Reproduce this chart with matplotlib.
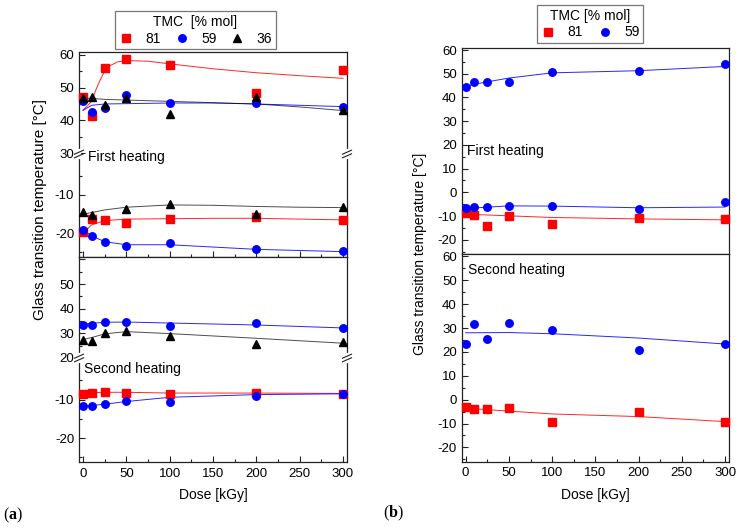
import matplotlib
matplotlib.use('Agg')
import matplotlib.pyplot as plt
from matplotlib.lines import Line2D
from matplotlib.ticker import FixedLocator, FuncFormatter, MultipleLocator

plt.rcParams['font.family'] = ['Liberation Sans', 'DejaVu Sans']
plt.rcParams['axes.unicode_minus'] = False
plt.rcParams['mathtext.fontset'] = 'custom'
plt.rcParams['mathtext.rm'] = 'Liberation Serif'
plt.rcParams['mathtext.bf'] = 'Liberation Serif:bold'

# ---------------- data ----------------
dose = [0, 10, 25, 50, 100, 200, 300]
dose_36_lo = [0, 10, 50, 100, 200, 300]

# (a) first heating, upper range
a1_81_hi = [47.1, 41.3, 56.0, 58.7, 56.8, 48.4, 55.4]
a1_59_hi = [45.8, 42.6, 43.8, 47.8, 45.3, 45.2, 44.1]
a1_36_hi = [46.8, 47.1, 44.6, 46.8, 42.1, 47.0, 43.3]
# (a) first heating, lower range
a1_81_lo = [-19.7, -16.3, -16.5, -17.2, -16.3, -15.8, -16.5]
a1_59_lo = [-19.1, -20.7, -22.4, -23.2, -22.6, -24.2, -24.6]
a1_36_lo = [-14.4, -15.3, -13.7, -12.4, -15.0, -13.2]
# (a) second heating
a2_59_hi = [33.2, 33.2, 34.8, 34.6, 32.9, 34.4, 32.2]
a2_36_hi = [27.5, 27.1, 30.0, 30.8, 29.1, 25.7, 26.4]
a2_81_lo = [-8.5, -8.2, -7.9, -8.2, -8.5, -8.2, -8.5]
a2_59_lo = [-11.7, -11.7, -11.1, -10.3, -10.7, -9.1, -8.5]

# (b)
b1_59_hi = [44.4, 46.4, 46.6, 46.4, 50.6, 51.1, 54.2]
b1_59_lo = [-6.5, -6.1, -6.2, -5.6, -5.9, -7.1, -4.2]
b1_81 = [-8.9, -9.5, -14.3, -10.0, -13.4, -11.0, -11.3]
b2_59 = [23.5, 31.8, 25.4, 31.9, 29.3, 20.9, 23.4]
b2_81 = [-3.0, -3.9, -4.0, -3.4, -9.2, -5.0, -9.5]

# fitted curves
fx_a1_81_hi = [0, 10, 15, 20, 25, 30, 40, 50, 75, 100, 150, 200, 250, 300]
fy_a1_81_hi = [43.1, 45.8, 49.4, 52.4, 55.0, 56.5, 57.8, 58.2, 58.0, 57.2, 55.7, 54.5, 53.6, 52.8]
fx_a1 = [0, 10, 25, 50, 100, 150, 200, 250, 300]
fy_a1_59_hi = [43.1, 44.6, 45.0, 45.1, 45.3, 45.3, 45.0, 44.6, 44.2]
fy_a1_36_hi = [46.8, 46.7, 46.4, 46.2, 45.8, 45.4, 45.0, 44.1, 43.0]
fy_a1_36_lo = [-15.0, -14.6, -13.9, -13.2, -12.6, -12.7, -13.0, -13.2, -13.3]
fy_a1_81_lo = [-20.0, -17.8, -16.7, -16.3, -16.2, -16.1, -16.1, -16.3, -16.5]
fy_a1_59_lo = [-19.1, -20.7, -22.2, -23.0, -23.0, -23.6, -24.2, -24.5, -24.8]
fx_a2 = [0, 10, 25, 50, 100, 200, 300]
fy_a2_59_hi = [33.8, 34.1, 34.5, 34.6, 34.2, 33.4, 32.2]
fy_a2_36_hi = [27.5, 28.3, 29.8, 30.7, 29.9, 28.0, 26.0]
fy_a2_81_lo = [-8.4, -8.2, -8.1, -8.1, -8.3, -8.3, -8.4]
fy_a2_59_lo = [-11.7, -11.5, -11.2, -10.5, -9.4, -8.7, -8.5]
fx_b1_59_hi = [0, 10, 25, 50, 100, 200, 300]
fy_b1_59_hi = [44.7, 45.6, 46.6, 48.2, 50.4, 51.3, 53.1]
fx_b1_59_lo = [0, 50, 100, 200, 300]
fy_b1_59_lo = [-6.8, -5.7, -5.8, -6.5, -6.2]
fx_b1_81 = [0, 100, 200, 300]
fy_b1_81 = [-9.2, -10.6, -11.2, -11.6]
fx_b2_59 = [0, 50, 100, 200, 300]
fy_b2_59 = [28.0, 28.1, 27.6, 25.8, 23.3]
fx_b2_81 = [0, 100, 200, 300]
fy_b2_81 = [-3.6, -6.0, -7.1, -9.2]

x_ticks = [0, 50, 100, 150, 200, 250, 300]
legend_a = ['81', '59', '36']
legend_b = ['81', '59']

# ---------------- style ----------------
RED = '#ff0000'
BLUE = '#0000ff'
BLACK = '#000000'
FS = 9.5
MS = {'s': 5.2, 'o': 5.4, '^': 6.2}
W, H = 743, 530
fig = plt.figure(figsize=(W / 100, H / 100), dpi=100)


def add_ax(x0, x1, y0, y1):
    return fig.add_axes([x0 / W, 1 - y1 / H, (x1 - x0) / W, (y1 - y0) / H])


def style(ax, ylim, major, minor, hide_label=(), xticks=False, xlabels=False,
          hide_top=False, hide_bottom=False):
    ax.set_xlim(-4.6, 304.6)
    ax.set_ylim(*ylim)
    for s in ax.spines.values():
        s.set_linewidth(0.9)
        s.set_color('#222222')
    if hide_top:
        ax.spines['top'].set_visible(False)
    if hide_bottom:
        ax.spines['bottom'].set_visible(False)
    ax.yaxis.set_major_locator(FixedLocator(major))
    ax.yaxis.set_minor_locator(FixedLocator(minor))
    ax.yaxis.set_major_formatter(FuncFormatter(
        lambda v, p: '' if round(v) in hide_label else '%d' % round(v)))
    ax.tick_params(axis='y', which='both', direction='in', left=True, right=False,
                   labelsize=FS, pad=3.5, width=0.8, color='#222222')
    ax.tick_params(axis='y', which='major', length=4)
    ax.tick_params(axis='y', which='minor', length=2.5)
    if xticks:
        ax.xaxis.set_major_locator(FixedLocator(x_ticks))
        ax.xaxis.set_minor_locator(MultipleLocator(25))
        ax.tick_params(axis='x', which='both', direction='in', bottom=True, top=False,
                       labelbottom=xlabels, labelsize=FS, pad=4, width=0.8, color='#222222')
        ax.tick_params(axis='x', which='major', length=4)
        ax.tick_params(axis='x', which='minor', length=2.5)
    else:
        ax.tick_params(axis='x', which='both', bottom=False, top=False, labelbottom=False)


def pts(ax, x, y, color, marker):
    ax.plot(x, y, ls='none', marker=marker, color=color, mec=color, ms=MS[marker],
            zorder=3, clip_on=False)


def fit(ax, x, y, color, lw=0.7, alpha=0.85):
    ax.plot(x, y, color=color, lw=lw, alpha=alpha, zorder=2)


def brk(px, py):
    fig.add_artist(Line2D([px / W, px / W], [1 - (py - 3) / H, 1 - (py + 3) / H],
                          color='white', lw=3, transform=fig.transFigure, zorder=10))
    for dy in (-1.8, 1.8):
        xs = [(px - 4.5) / W, (px + 4.5) / W]
        ys = [1 - (py + dy + 2) / H, 1 - (py + dy - 2) / H]
        fig.add_artist(Line2D(xs, ys, color='#222222', lw=0.8,
                              transform=fig.transFigure, zorder=11))


# ---------------- panel (a) ----------------
LX0, LX1 = 79, 347
a_s1 = add_ax(LX0, LX1, 52, 154)
a_s2 = add_ax(LX0, LX1, 154, 257)
a_s3 = add_ax(LX0, LX1, 257, 358)
a_s4 = add_ax(LX0, LX1, 358, 462)

style(a_s1, (29.8, 60.8), [30, 40, 50, 60], [35, 45, 55], hide_bottom=True)
style(a_s2, (-26.2, 0.7), [-20, -10], [-25, -15, -5], xticks=True, xlabels=False, hide_top=True)
style(a_s3, (20.0, 61.0), [20, 30, 40, 50, 60], [25, 35, 45, 55], hide_label=(60,), hide_bottom=True)
style(a_s4, (-26.2, 0.8), [-20, -10], [-25, -15, -5], xticks=True, xlabels=True, hide_top=True)

fit(a_s1, fx_a1_81_hi, fy_a1_81_hi, RED)
fit(a_s1, fx_a1, fy_a1_59_hi, BLUE)
fit(a_s1, fx_a1, fy_a1_36_hi, BLACK, alpha=0.7)
pts(a_s1, dose, a1_81_hi, RED, 's')
pts(a_s1, dose, a1_59_hi, BLUE, 'o')
pts(a_s1, dose, a1_36_hi, BLACK, '^')

fit(a_s2, fx_a1, fy_a1_81_lo, RED)
fit(a_s2, fx_a1, fy_a1_59_lo, BLUE)
fit(a_s2, fx_a1, fy_a1_36_lo, BLACK, alpha=0.7)
pts(a_s2, dose, a1_81_lo, RED, 's')
pts(a_s2, dose, a1_59_lo, BLUE, 'o')
pts(a_s2, dose_36_lo, a1_36_lo, BLACK, '^')

fit(a_s3, fx_a2, fy_a2_59_hi, BLUE)
fit(a_s3, fx_a2, fy_a2_36_hi, BLACK, alpha=0.7)
pts(a_s3, dose, a2_59_hi, BLUE, 'o')
pts(a_s3, dose, a2_36_hi, BLACK, '^')

fit(a_s4, fx_a2, fy_a2_81_lo, RED)
fit(a_s4, fx_a2, fy_a2_59_lo, BLUE)
pts(a_s4, dose, a2_81_lo, RED, 's')
pts(a_s4, dose, a2_59_lo, BLUE, 'o')

a_s4.set_xlabel('Dose [kGy]', fontsize=FS + 0.5, labelpad=6)

for px in (LX0, LX1):
    brk(px, 154)
    brk(px, 358)

fig.text(87.5 / W, 1 - 157.5 / H, 'First heating', fontsize=FS + 0.5, ha='left', va='center')
fig.text(84.5 / W, 1 - 369.5 / H, 'Second heating', fontsize=FS + 0.5, ha='left', va='center')
fig.text(40 / W, 1 - 210 / H, 'Glass transition temperature [°C]', rotation=90,
         fontsize=11, ha='center', va='center')

h = [Line2D([], [], ls='none', marker='s', color=RED, ms=MS['s']),
     Line2D([], [], ls='none', marker='o', color=BLUE, ms=MS['o']),
     Line2D([], [], ls='none', marker='^', color=BLACK, ms=MS['^'])]
leg_a = fig.legend(h, legend_a, ncol=3, title='TMC  [% mol]', loc='center',
                   bbox_to_anchor=(195.5 / W, 1 - 30.3 / H), frameon=True, fancybox=False,
                   edgecolor='#555555', handlelength=1.0, handletextpad=0.9,
                   columnspacing=1.0, borderpad=0.25, labelspacing=0.2,
                   fontsize=FS + 0.5, title_fontsize=FS + 0.5, borderaxespad=0)
leg_a.get_frame().set_linewidth(0.9)

# ---------------- panel (b) ----------------
RX0, RX1 = 461.7, 729
b_s1 = add_ax(RX0, RX1, 47.7, 254)
b_s2 = add_ax(RX0, RX1, 254, 461.7)
major_b = [-20, -10, 0, 10, 20, 30, 40, 50, 60]
minor_b = [-25, -15, -5, 5, 15, 25, 35, 45, 55]
style(b_s1, (-26.0, 61.0), major_b, minor_b)
style(b_s2, (-26.0, 61.0), major_b, minor_b, xticks=True, xlabels=True)

fit(b_s1, fx_b1_59_hi, fy_b1_59_hi, BLUE)
fit(b_s1, fx_b1_59_lo, fy_b1_59_lo, BLUE)
fit(b_s1, fx_b1_81, fy_b1_81, RED)
pts(b_s1, dose, b1_81, RED, 's')
pts(b_s1, dose, b1_59_hi, BLUE, 'o')
pts(b_s1, dose, b1_59_lo, BLUE, 'o')

fit(b_s2, fx_b2_59, fy_b2_59, BLUE)
fit(b_s2, fx_b2_81, fy_b2_81, RED)
pts(b_s2, dose, b2_81, RED, 's')
pts(b_s2, dose, b2_59, BLUE, 'o')

b_s2.set_xlabel('Dose [kGy]', fontsize=FS + 0.5, labelpad=6)

fig.text(466.7 / W, 1 - 150.5 / H, 'First heating', fontsize=FS + 0.5, ha='left', va='center')
fig.text(468.5 / W, 1 - 270 / H, 'Second heating', fontsize=FS + 0.5, ha='left', va='center')
fig.text(420 / W, 1 - 254 / H, 'Glass transition temperature [°C]', rotation=90,
         fontsize=FS + 0.5, ha='center', va='center')

hb = [Line2D([], [], ls='none', marker='s', color=RED, ms=MS['s']),
      Line2D([], [], ls='none', marker='o', color=BLUE, ms=MS['o'])]
leg_b = fig.legend(hb, legend_b, ncol=2, title='TMC [% mol]', loc='center',
                   bbox_to_anchor=(590 / W, 1 - 24 / H), frameon=True, fancybox=False,
                   edgecolor='#555555', handlelength=1.0, handletextpad=0.9,
                   columnspacing=1.1, borderpad=0.25, labelspacing=0.2,
                   fontsize=FS + 0.5, title_fontsize=FS + 0.5, borderaxespad=0)
leg_b.get_frame().set_linewidth(0.9)

# panel labels
fig.text(3 / W, 1 - 515 / H, r'($\mathbf{a}$)', fontsize=11.5, family='Liberation Serif',
         ha='left', va='center')
fig.text(383 / W, 1 - 513 / H, r'($\mathbf{b}$)', fontsize=11.5, family='Liberation Serif',
         ha='left', va='center')

fig.savefig('out.png', dpi=100, facecolor='white')
